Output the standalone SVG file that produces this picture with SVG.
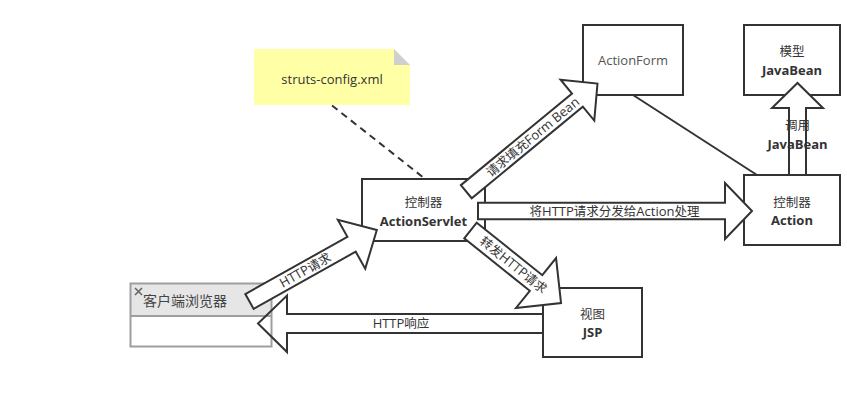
<svg xmlns="http://www.w3.org/2000/svg" width="847" height="400" viewBox="0 0 847 400">
<style>
  .box { fill: #ffffff; stroke: #333333; stroke-width: 2; }
  .t { font-family: "Open Sans", "Noto Sans CJK SC", sans-serif; font-size: 13px; fill: #333333; text-anchor: middle; }
  .c { font-size: 12.5px; }
  .b { font-weight: bold; }
  .arrow { fill: #ffffff; stroke: #333333; stroke-width: 2; stroke-linejoin: miter; }
  .line { fill: none; stroke: #333333; stroke-width: 2; }
</style>
<rect width="847" height="400" fill="#ffffff"/>

<g id="note-struts-config">
  <polygon points="254,49 394,49 410,65 410,105 254,105" fill="#ffffa6"/>
  <polygon points="394,49 394,65 410,65" fill="#cfcfcf"/>
  <text class="t" x="332" y="83.5">struts-config.xml</text>
</g>

<g id="node-actionservlet">
  <rect class="box" x="362" y="179" width="123" height="62"/>
  <text class="t" x="423.5" y="206.5"><tspan class="c">控制器</tspan></text>
  <text class="t b" x="423.5" y="225.5">ActionServlet</text>
</g>

<g id="node-actionform">
  <rect class="box" x="583" y="25" width="100" height="70"/>
  <text class="t" x="633" y="65" style="fill:#555555">ActionForm</text>
</g>

<g id="node-model">
  <rect class="box" x="744" y="25" width="96" height="70"/>
  <text class="t" x="792" y="56"><tspan class="c">模型</tspan></text>
  <text class="t b" x="792" y="74.5">JavaBean</text>
</g>

<g id="node-action">
  <rect class="box" x="744" y="175" width="96" height="70"/>
  <text class="t" x="792" y="207"><tspan class="c">控制器</tspan></text>
  <text class="t b" x="792" y="225">Action</text>
</g>

<g id="node-jsp">
  <rect class="box" x="543" y="288" width="99" height="69"/>
  <text class="t" x="592.5" y="318.5"><tspan class="c">视图</tspan></text>
  <text class="t b" x="592.5" y="337">JSP</text>
</g>

<g id="node-browser">
  <rect x="130.5" y="283.5" width="141" height="32.5" fill="#e6e6e6" stroke="none"/>
  <rect x="130.5" y="283.5" width="141" height="63" fill="none" stroke="#9e9e9e" stroke-width="2"/>
  <line x1="130.5" y1="316" x2="271.5" y2="316" stroke="#9e9e9e" stroke-width="2"/>
  <path d="M135,288 L142,295 M142,288 L135,295" stroke="#666666" stroke-width="1.6" fill="none"/>
  <text class="t" x="143" y="305.5" style="text-anchor:start;font-size:14px;fill:#444444">客户端浏览器</text>
</g>

<g id="connectors">
  <line class="line" x1="332" y1="105.5" x2="424" y2="178" stroke-dasharray="7 5"/>
  <line class="line" x1="633" y1="95" x2="757" y2="175"/>

  <g id="edge-http-request" transform="translate(249.5,301.5) rotate(-29.3)">
    <polygon class="arrow" points="0,-8.5 117,-8.5 117,-28 146,0 117,28 117,8.5 0,8.5"/>
    <text class="t" x="64" y="4.5">HTTP<tspan class="c">请求</tspan></text>
  </g>

  <g id="edge-fill-formbean" transform="translate(466.3,191.7) rotate(-39.5)">
    <polygon class="arrow" points="0,-8.5 144,-8.5 144,-26.5 170,0 144,26.5 144,8.5 0,8.5"/>
    <text class="t" x="86" y="4.5"><tspan class="c">请求填充</tspan>Form Bean</text>
  </g>

  <g id="edge-dispatch" transform="translate(478,211)">
    <polygon class="arrow" points="0,-8.25 247,-8.25 247,-28 274,0 247,28 247,8.25 0,8.25"/>
    <text class="t" x="136.5" y="4.5"><tspan class="c">将</tspan>HTTP<tspan class="c">请求分发给</tspan>Action<tspan class="c">处理</tspan></text>
  </g>

  <g id="edge-call-javabean">
    <polygon class="arrow" transform="translate(797.5,175) rotate(-90)" points="0,-8.5 67,-8.5 67,-25.5 92,0 67,25.5 67,8.5 0,8.5"/>
    <text class="t" x="797.5" y="130"><tspan class="c">调用</tspan></text>
    <text class="t b" x="797.5" y="148.5">JavaBean</text>
  </g>

  <g id="edge-forward" transform="translate(470.5,230.5) rotate(38.7)">
    <polygon class="arrow" points="0,-10 84,-10 84,-32 116,0 84,32 84,10 0,10"/>
    <text class="t" x="55" y="4.5"><tspan class="c">转发</tspan>HTTP<tspan class="c">请求</tspan></text>
  </g>

  <g id="edge-http-response">
    <polygon class="arrow" style="fill:none" points="543,314 287,314 287,295.5 258,323.5 287,352 287,333 543,333"/>
    <text class="t" x="401" y="328">HTTP<tspan class="c">响应</tspan></text>
  </g>
</g>
</svg>
